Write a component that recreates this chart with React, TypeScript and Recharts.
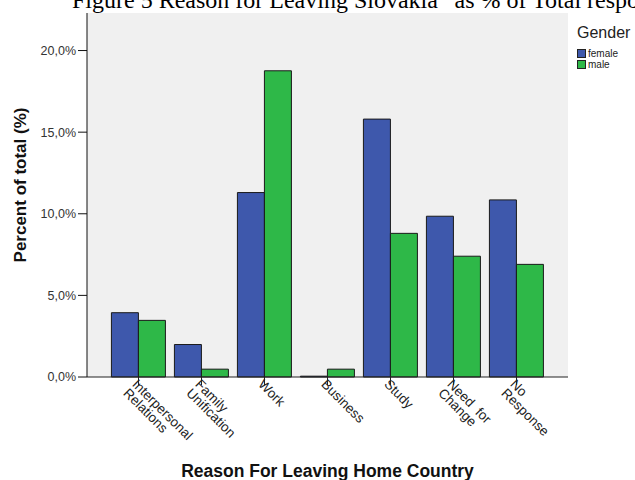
import { BarChart, Bar, XAxis, YAxis, CartesianGrid, Legend, Label } from 'recharts';

const reasons = [
  'Interpersonal\nRelations',
  'Family\nUnification',
  'Work',
  'Business',
  'Study',
  'Need  for\nChange',
  'No\nResponse',
];
const female = [3.94, 1.99, 11.3, 0.05, 15.8, 9.85, 10.85];
const male = [3.47, 0.48, 18.76, 0.48, 8.8, 7.4, 6.9];
const yTicks = [0, 5, 10, 15, 20];

const data = reasons.map((reason, i) => ({ reason, female: female[i], male: male[i] }));

const font = '"Liberation Sans", Arial, sans-serif';

function ReasonTick(props: any) {
  const { x, y, payload } = props;
  const lines = String(payload.value).split('\n');
  const ox = x;
  const oy = y - 7;
  return (
    <g transform={`rotate(45, ${ox}, ${oy})`}>
      <text x={ox} y={oy} fontFamily={font} fontSize={13.5} fill="#222" textAnchor="start">
        {lines.map((l, i) => (
          <tspan key={i} x={ox} dy={i === 0 ? 10 : 12.5} style={{ whiteSpace: 'pre' }}>
            {l}
          </tspan>
        ))}
      </text>
    </g>
  );
}

function GenderLegend(props: any) {
  const { payload } = props;
  return (
    <div style={{ fontFamily: font, color: '#222' }}>
      <div style={{ fontSize: 16, lineHeight: '18px', marginBottom: 6 }}>Gender</div>
      {payload.map((p: any) => (
        <div key={p.value} style={{ display: 'flex', alignItems: 'center', height: 11, lineHeight: '11px', fontSize: 10 }}>
          <span
            style={{
              display: 'inline-block',
              width: 7,
              height: 7,
              background: p.color,
              border: '1px solid #222',
              marginRight: 2,
            }}
          />
          {p.value}
        </div>
      ))}
    </div>
  );
}

export default function App() {
  return (
    <div style={{ position: 'absolute', left: 0, top: 0, width: 635, height: 480, background: '#fff', overflow: 'hidden' }}>
      <svg width={635} height={30} style={{ position: 'absolute', left: 0, top: 0 }}>
        <text x={72} y={8} fontFamily='"Liberation Serif", "Times New Roman", serif' fontSize={24} fill="#000">
          Figure 5 Reason for Leaving Slovakia” as % of Total respondents
        </text>
      </svg>
      <BarChart
        width={635}
        height={480}
        data={data}
        margin={{ top: 13, right: 67, left: 0, bottom: 0 }}
        barCategoryGap="7%"
        barGap={0}
      >
        <CartesianGrid fill="#f0f0f0" horizontal={false} vertical={false} />
        <XAxis
          dataKey="reason"
          height={103}
          padding={{ left: 20, right: 20 }}
          tickSize={8}
          tickMargin={0}
          tickLine={{ stroke: '#222' }}
          axisLine={{ stroke: '#222' }}
          tick={<ReasonTick />}
          interval={0}
        >
          <Label
            value="Reason For Leaving Home Country"
            position="insideBottom"
            offset={3}
            style={{ fontFamily: font, fontSize: 17.5, fontWeight: 'bold', fill: '#111' }}
          />
        </XAxis>
        <XAxis xAxisId="top" dataKey="reason" orientation="top" height={0} tick={false} tickLine={false} axisLine={{ stroke: '#666' }} />
        <YAxis
          width={87}
          domain={[0, 22.3]}
          ticks={yTicks}
          tickSize={9}
          tickLine={{ stroke: '#111' }}
          axisLine={{ stroke: '#111' }}
          tick={{ fontFamily: font, fontSize: 12.5, fill: '#333' }}
          tickFormatter={(v: number) => v.toFixed(1).replace('.', ',') + '%'}
        >
          <Label
            value="Percent of total (%)"
            angle={-90}
            position="insideLeft"
            offset={20}
            dy={-10}
            style={{ fontFamily: font, fontSize: 17, fontWeight: 'bold', fill: '#111', textAnchor: 'middle' }}
          />
        </YAxis>
        <YAxis yAxisId="right" orientation="right" width={0} domain={[0, 22.3]} tick={false} tickLine={false} axisLine={{ stroke: '#666' }} />
        <Legend
          layout="horizontal"
          verticalAlign="middle"
          align="center"
          content={<GenderLegend />}
          wrapperStyle={{ left: 577, top: 24, width: 60, height: 50 }}
        />
        <Bar dataKey="female" name="female" fill="#3e58ac" stroke="#1a1a1a" strokeWidth={1} isAnimationActive={false} />
        <Bar dataKey="male" name="male" fill="#2eb848" stroke="#1a1a1a" strokeWidth={1} isAnimationActive={false} />
      </BarChart>
    </div>
  );
}
